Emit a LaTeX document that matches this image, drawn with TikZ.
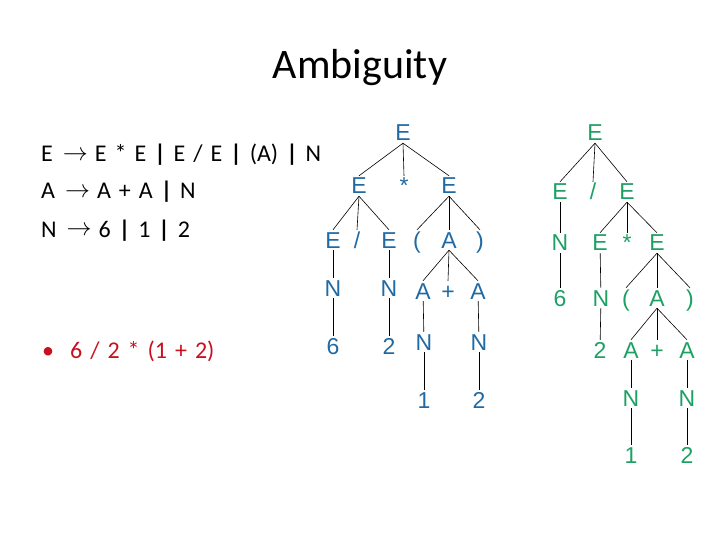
\documentclass[tikz,border=0pt]{standalone}
\usepackage{fontspec}
\setmainfont{Carlito}
\newfontfamily\treefont{Liberation Sans}
\usepackage{graphicx}
\usepackage{tikz}
\usetikzlibrary{positioning}

\definecolor{treeblue}{RGB}{31,106,165}
\definecolor{treegreen}{RGB}{30,160,100}
\definecolor{exprred}{RGB}{200,16,30}

\newcommand{\produces}{\hspace{10pt}\raisebox{1.5pt}{\resizebox{25pt}{!}{$\rightarrow$}}\hspace{7pt}}
\newcommand{\alt}{\textbf{|}}

\begin{document}
\begin{tikzpicture}[
    x=1pt, y=-1pt,
    tnode/.style={inner sep=2pt, text height=16pt, text depth=0pt, font=\treefont\fontsize{23}{23}\selectfont},
    bnode/.style={tnode, text=treeblue},
    gnode/.style={tnode, text=treegreen},
    gram/.style={anchor=base west, inner sep=0pt, font={\fontsize{24}{28}\selectfont\spaceskip=8pt\relax}},
    treeedge/.style={black, line width=0.6pt}
]
\useasboundingbox (0,0) rectangle (720,540);

% title and grammar
\node[font=\fontsize{42}{48}\selectfont, anchor=base] (title) at (360,79) {Ambiguity};
\node[gram] (ruleE) at (41,162) {E\produces{}E * E \alt{} E / E \alt{} (A) \alt{} N};
\node[gram] (ruleA) at (41,199) {A\produces{}A + A \alt{} N};
\node[gram] (ruleN) at (41,237) {N\produces{}6 \alt{} 1 \alt{} 2};
\node[gram, text=exprred] (expr) at (42,358) {\textbullet\hspace{16pt}6 / 2 * (1 + 2)};

% first tree
\node[bnode] (bE) at (403,133) {E};
\node[bnode] (bEl) at (359,186) {E};
\node[bnode] (bStar) at (404,186) {*};
\node[bnode] (bEr) at (449,186) {E};
\node[bnode] (bE3a) at (333,240) {E};
\node[bnode] (bSlash) at (357,240) {/};
\node[bnode] (bE3b) at (389,240) {E};
\node[bnode] (bLp) at (417,240) {(};
\node[bnode] (bA) at (449,240) {A};
\node[bnode] (bRp) at (480,240) {)};
\node[bnode] (bN1) at (333,288) {N};
\node[bnode] (bN2) at (389,288) {N};
\node[bnode] (bA1) at (423,291) {A};
\node[bnode] (bPlus) at (448,291) {+};
\node[bnode] (bA2) at (478,291) {A};
\node[bnode] (bSix) at (333,346) {6};
\node[bnode] (bTwo) at (389,346) {2};
\node[bnode] (bN3) at (424,342) {N};
\node[bnode] (bN4) at (479,342) {N};
\node[bnode] (bOne) at (424,400) {1};
\node[bnode] (bTwoB) at (479,400) {2};

\draw[treeedge] (bE.south) -- (bEl.north);
\draw[treeedge] (bE.south) -- (bStar.north);
\draw[treeedge] (bE.south) -- (bEr.north);
\draw[treeedge] (bEl.south) -- (bE3a.north);
\draw[treeedge] (bEl.south) -- (bSlash.north);
\draw[treeedge] (bEl.south) -- (bE3b.north);
\draw[treeedge] (bEr.south) -- (bLp.north);
\draw[treeedge] (bEr.south) -- (bA.north);
\draw[treeedge] (bEr.south) -- (bRp.north);
\draw[treeedge] (bE3a) -- (bN1);
\draw[treeedge] (bE3b) -- (bN2);
\draw[treeedge] (bA.south) -- (bA1.north);
\draw[treeedge] (bA.south) -- (bPlus.north);
\draw[treeedge] (bA.south) -- (bA2.north);
\draw[treeedge] (bN1) -- (bSix);
\draw[treeedge] (bN2) -- (bTwo);
\draw[treeedge] (bA1) -- (bN3);
\draw[treeedge] (bA2) -- (bN4);
\draw[treeedge] (bN3) -- (bOne);
\draw[treeedge] (bN4) -- (bTwoB);

% second tree
\node[gnode] (gE) at (595,133) {E};
\node[gnode] (gEl) at (560,192) {E};
\node[gnode] (gSlash) at (593,192) {/};
\node[gnode] (gEr) at (627,192) {E};
\node[gnode] (gN1) at (560,243) {N};
\node[gnode] (gE3a) at (600,243) {E};
\node[gnode] (gStar) at (627,243) {*};
\node[gnode] (gE3b) at (657,243) {E};
\node[gnode] (gSix) at (560,298) {6};
\node[gnode] (gN2) at (601,298) {N};
\node[gnode] (gLp) at (626,298) {(};
\node[gnode] (gA) at (657,298) {A};
\node[gnode] (gRp) at (690,298) {)};
\node[gnode] (gTwo) at (600,350) {2};
\node[gnode] (gA1) at (631,350) {A};
\node[gnode] (gPlus) at (657,350) {+};
\node[gnode] (gA2) at (687,350) {A};
\node[gnode] (gN3) at (631,398) {N};
\node[gnode] (gN4) at (687,398) {N};
\node[gnode] (gOne) at (631,455) {1};
\node[gnode] (gTwoB) at (687,455) {2};

\draw[treeedge] (gE.south) -- (gEl.north);
\draw[treeedge] (gE.south) -- (gSlash.north);
\draw[treeedge] (gE.south) -- (gEr.north);
\draw[treeedge] (gEl) -- (gN1);
\draw[treeedge] (gN1) -- (gSix);
\draw[treeedge] (gEr.south) -- (gE3a.north);
\draw[treeedge] (gEr.south) -- (gStar.north);
\draw[treeedge] (gEr.south) -- (gE3b.north);
\draw[treeedge] (gE3a) -- (gN2);
\draw[treeedge] (gN2) -- (gTwo);
\draw[treeedge] (gE3b.south) -- (gLp.north);
\draw[treeedge] (gE3b.south) -- (gA.north);
\draw[treeedge] (gE3b.south) -- (gRp.north);
\draw[treeedge] (gA.south) -- (gA1.north);
\draw[treeedge] (gA.south) -- (gPlus.north);
\draw[treeedge] (gA.south) -- (gA2.north);
\draw[treeedge] (gA1) -- (gN3);
\draw[treeedge] (gA2) -- (gN4);
\draw[treeedge] (gN3) -- (gOne);
\draw[treeedge] (gN4) -- (gTwoB);
\end{tikzpicture}
\end{document}
